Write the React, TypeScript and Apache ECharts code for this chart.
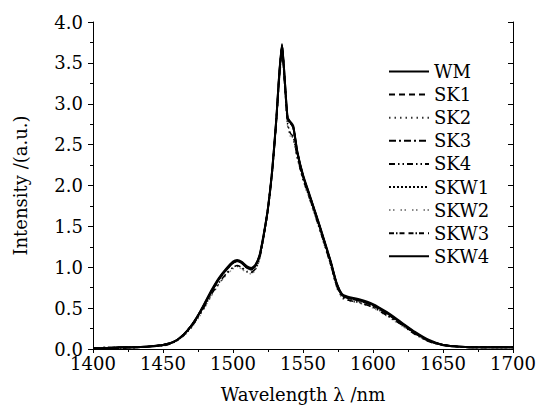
import React, { useEffect, useRef } from "react";
import * as echarts from "echarts";

const wavelengths = [1400,1410,1420,1430,1440,1450,1455,1460,1465,1470,1475,1480,1485,1490,1495,1500,1503,1506,1510,1513,1516,1519,1522,1525,1528,1531,1533,1535,1537,1539,1541,1543,1546,1550,1555,1560,1565,1570,1574,1578,1582,1590,1600,1610,1620,1630,1640,1650,1660,1670,1680,1690,1700];

const WM = [0.01,0.01,0.02,0.02,0.03,0.05,0.07,0.11,0.18,0.28,0.41,0.56,0.72,0.86,0.97,1.06,1.08,1.06,1.00,0.98,1.02,1.14,1.40,1.72,2.18,2.82,3.35,3.72,3.28,2.82,2.77,2.72,2.40,2.12,1.86,1.60,1.33,1.05,0.80,0.66,0.63,0.60,0.54,0.44,0.32,0.20,0.10,0.05,0.03,0.02,0.02,0.02,0.02];
const SK1 = [0.01,0.01,0.01,0.02,0.03,0.05,0.07,0.11,0.18,0.28,0.40,0.55,0.71,0.85,0.96,1.05,1.07,1.05,0.99,0.97,1.01,1.13,1.39,1.71,2.17,2.81,3.33,3.70,3.26,2.81,2.76,2.71,2.39,2.11,1.85,1.59,1.32,1.04,0.79,0.65,0.62,0.59,0.53,0.43,0.31,0.19,0.10,0.05,0.03,0.02,0.02,0.02,0.02];
const SK2 = [0.01,0.01,0.02,0.02,0.03,0.05,0.07,0.10,0.17,0.26,0.38,0.52,0.67,0.80,0.91,0.99,1.01,0.99,0.94,0.93,0.97,1.10,1.37,1.70,2.15,2.77,3.28,3.62,3.20,2.74,2.62,2.58,2.33,2.07,1.82,1.56,1.29,1.01,0.76,0.63,0.60,0.57,0.51,0.42,0.30,0.19,0.09,0.05,0.03,0.02,0.02,0.02,0.02];
const SK3 = [0.01,0.02,0.02,0.02,0.03,0.05,0.07,0.11,0.18,0.27,0.40,0.56,0.72,0.86,0.97,1.05,1.08,1.06,1.00,0.98,1.02,1.14,1.40,1.72,2.19,2.83,3.36,3.71,3.27,2.83,2.77,2.72,2.41,2.12,1.86,1.61,1.33,1.05,0.80,0.66,0.63,0.60,0.54,0.44,0.32,0.20,0.10,0.05,0.03,0.02,0.02,0.02,0.02];
const SK4 = [0.01,0.01,0.01,0.02,0.03,0.04,0.06,0.10,0.17,0.26,0.39,0.53,0.68,0.81,0.92,1.00,1.02,1.00,0.95,0.94,0.98,1.11,1.38,1.70,2.16,2.78,3.29,3.64,3.22,2.76,2.64,2.60,2.34,2.08,1.83,1.57,1.30,1.02,0.77,0.64,0.60,0.57,0.51,0.41,0.30,0.18,0.09,0.05,0.03,0.02,0.02,0.02,0.02];
const SKW1 = [0.01,0.01,0.02,0.02,0.03,0.05,0.07,0.11,0.18,0.28,0.41,0.56,0.72,0.86,0.97,1.06,1.08,1.06,1.00,0.98,1.02,1.14,1.40,1.73,2.18,2.82,3.34,3.71,3.28,2.82,2.77,2.72,2.40,2.12,1.87,1.60,1.33,1.05,0.80,0.66,0.63,0.60,0.54,0.44,0.32,0.20,0.10,0.05,0.03,0.02,0.02,0.02,0.02];
const SKW2 = [0.01,0.01,0.02,0.02,0.03,0.04,0.06,0.10,0.16,0.25,0.37,0.51,0.66,0.79,0.90,0.98,1.00,0.98,0.93,0.92,0.96,1.09,1.36,1.69,2.14,2.75,3.25,3.58,3.18,2.72,2.60,2.56,2.32,2.06,1.81,1.55,1.28,1.00,0.75,0.62,0.59,0.56,0.50,0.40,0.29,0.18,0.09,0.04,0.03,0.02,0.02,0.02,0.02];
const SKW3 = [0.01,0.01,0.02,0.02,0.03,0.05,0.07,0.11,0.18,0.28,0.41,0.55,0.71,0.85,0.96,1.05,1.07,1.05,0.99,0.97,1.01,1.14,1.40,1.72,2.18,2.81,3.33,3.70,3.27,2.82,2.76,2.71,2.40,2.11,1.86,1.60,1.33,1.05,0.80,0.66,0.62,0.59,0.53,0.43,0.31,0.19,0.10,0.05,0.03,0.02,0.02,0.02,0.02];
const SKW4 = [0.01,0.01,0.02,0.02,0.03,0.05,0.07,0.11,0.18,0.28,0.41,0.57,0.73,0.87,0.98,1.07,1.09,1.07,1.01,0.99,1.03,1.15,1.41,1.73,2.19,2.83,3.36,3.73,3.29,2.83,2.78,2.73,2.41,2.13,1.87,1.61,1.34,1.06,0.81,0.67,0.64,0.61,0.55,0.45,0.33,0.21,0.11,0.05,0.03,0.02,0.02,0.02,0.02];

const seriesNames = ["WM","SK1","SK2","SK3","SK4","SKW1","SKW2","SKW3","SKW4"];
const seriesValues = [WM, SK1, SK2, SK3, SK4, SKW1, SKW2, SKW3, SKW4];

const FONT = "DejaVu Serif";
const FS = 18;

const styles: any[] = [
  { color: "#000", width: 2, type: "solid" },
  { color: "#000", width: 1.6, type: [6, 4] },
  { color: "#333", width: 1.4, type: [1.5, 4] },
  { color: "#000", width: 1.6, type: [7, 3, 2, 3] },
  { color: "#000", width: 1.5, type: [6, 3, 1.5, 3, 1.5, 3] },
  { color: "#000", width: 1.6, type: [2, 2] },
  { color: "#888", width: 1.3, type: [1.5, 2.5, 1.5, 6] },
  { color: "#000", width: 1.5, type: [5, 2, 1.5, 2, 5, 4] },
  { color: "#000", width: 2, type: "solid" },
];

export default function App() {
  const ref = useRef<HTMLDivElement>(null);
  useEffect(() => {
    if (!ref.current) return;
    const chart = echarts.init(ref.current, null, { renderer: "svg" });
    const axisCommon = {
      type: "value",
      axisLine: { show: true, lineStyle: { color: "#000", width: 1 } },
      splitLine: { show: false },
    };
    chart.setOption({
      animation: false,
      backgroundColor: "#fff",
      textStyle: { fontFamily: FONT },
      grid: { left: 93, right: 29, top: 22, bottom: 53, containLabel: false },
      legend: {
        orient: "vertical",
        left: 383,
        top: 56,
        itemWidth: 40,
        itemHeight: 12,
        itemGap: 2.1,
        itemStyle: { opacity: 0, color: "transparent", borderColor: "transparent", borderWidth: 0 },
        data: seriesNames,
        textStyle: { fontFamily: FONT, fontSize: FS, color: "#000", lineHeight: 21, padding: [0, 0, 0, 0] },
      },
      xAxis: [
        {
          ...axisCommon,
          min: 1400,
          max: 1700,
          interval: 50,
          position: "bottom",
          name: "Wavelength \u03bb /nm",
          nameLocation: "middle",
          nameGap: 36,
          nameTextStyle: { fontFamily: FONT, fontSize: FS, color: "#000" },
          axisTick: { show: true, inside: false, length: 4, lineStyle: { color: "#000" } },
          minorTick: { show: true, splitNumber: 2, length: 3, lineStyle: { color: "#000" } },
          axisLabel: { color: "#000", fontSize: FS, fontFamily: FONT, margin: 5, formatter: (v: number) => String(v) },
        },
        {
          ...axisCommon,
          min: 1400,
          max: 1700,
          interval: 50,
          position: "top",
          axisTick: { show: true, inside: true, length: 4, lineStyle: { color: "#000" } },
          minorTick: { show: true, splitNumber: 2, length: 3, lineStyle: { color: "#000" } },
          axisLabel: { show: false },
        },
      ],
      yAxis: [
        {
          ...axisCommon,
          min: 0,
          max: 4,
          interval: 0.5,
          position: "left",
          name: "Intensity /(a.u.)",
          nameLocation: "middle",
          nameGap: 64,
          nameTextStyle: { fontFamily: FONT, fontSize: FS, color: "#000" },
          axisTick: { show: true, inside: false, length: 5, lineStyle: { color: "#000" } },
          minorTick: { show: true, splitNumber: 2, length: 3, lineStyle: { color: "#000" } },
          axisLabel: { color: "#000", fontSize: FS, fontFamily: FONT, margin: 10, formatter: (v: number) => v.toFixed(1) },
        },
        {
          ...axisCommon,
          min: 0,
          max: 4,
          interval: 0.5,
          position: "right",
          axisTick: { show: true, inside: true, length: 5, lineStyle: { color: "#000" } },
          minorTick: { show: true, splitNumber: 2, length: 3, lineStyle: { color: "#000" } },
          axisLabel: { show: false },
        },
      ],
      series: seriesNames.map((name, i) => ({
        name,
        type: "line",
        xAxisIndex: 0,
        yAxisIndex: 0,
        showSymbol: false,
        symbol: "none",
        smooth: 0.2,
        lineStyle: styles[i],
        itemStyle: { color: styles[i].color },
        data: wavelengths.map((w, k) => [w, seriesValues[i][k]]),
        z: i === 6 ? 1 : 2,
      })),
    });
    return () => chart.dispose();
  }, []);
  return <div ref={ref} style={{ width: 542, height: 408, position: "absolute", left: 0, top: 0 }} />;
}
